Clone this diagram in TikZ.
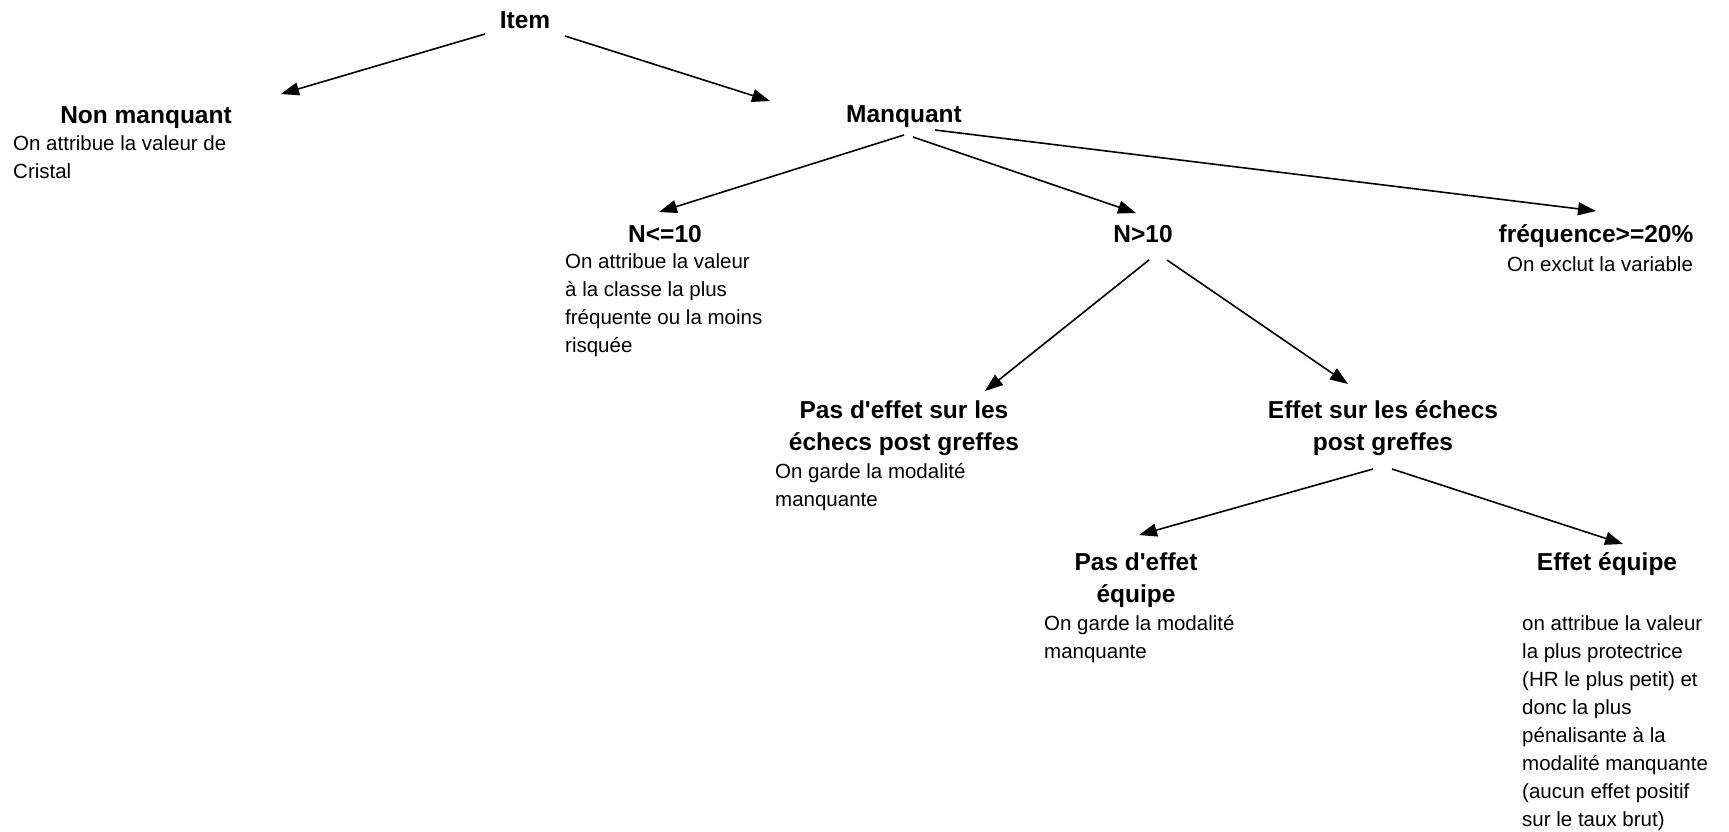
\documentclass[tikz,border=0pt]{standalone}
\usepackage{fontspec}
\setmainfont{Liberation Sans}[Ligatures=TeXOff]
\usetikzlibrary{arrows.meta}
\begin{document}
\begin{tikzpicture}[x=1pt,y=-1pt,
  ttl/.style={font=\fontsize{24.5}{32}\selectfont\bfseries, inner sep=0pt, anchor=base, align=center},
  body/.style={font=\fontsize{20.5}{28}\selectfont, inner sep=0pt, anchor=base west, align=left},
  arr/.style={line width=1.6pt, -{Triangle[length=18pt,width=13pt]}}]
\useasboundingbox (0,0) rectangle (1729,831);
% titles (base = baseline of last line)
\node[ttl] (item) at (525,28) {Item};
\node[ttl] (nonm) at (146,123) {Non manquant};
\node[ttl] (manq) at (904,122) {Manquant};
\node[ttl] (nle) at (665,242) {N<=10};
\node[ttl] (ngt) at (1143,242) {N>10};
\node[ttl] (freq) at (1596,242) {fréquence>=20\%};
\node[ttl] (pas1) at (904,450) {Pas d'effet sur les\\échecs post greffes};
\node[ttl] (eff1) at (1383,450) {Effet sur les échecs\\post greffes};
\node[ttl] (pas2) at (1136,602) {Pas d'effet\\équipe};
\node[ttl] (eff2) at (1607,570) {Effet équipe};
% descriptions (base = baseline of last line)
\node[body] (dnonm) at (13,178) {On attribue la valeur de\\Cristal};
\node[body] (dnle) at (565,352) {On attribue la valeur\\à la classe la plus\\fréquente ou la moins\\risquée};
\node[body] (dfreq) at (1507,271) {On exclut la variable};
\node[body] (dpas1) at (775,506) {On garde la modalité\\manquante};
\node[body] (dpas2) at (1044,658) {On garde la modalité\\manquante};
\node[body] (deff2) at (1522,826) {on attribue la valeur\\la plus protectrice\\(HR le plus petit) et\\donc la plus\\pénalisante à la\\modalité manquante\\(aucun effet positif\\sur le taux brut)};
% connectors
\draw[arr] ([shift={(-40,6)}]item.base) -- ([shift={(135,-29)}]nonm.base);
\draw[arr] ([shift={(40,8)}]item.base) -- ([shift={(-134,-21)}]manq.base);
\draw[arr] ([shift={(0,13)}]manq.base) -- ([shift={(-6,-30)}]nle.base);
\draw[arr] ([shift={(9,15)}]manq.base) -- ([shift={(-7,-29)}]ngt.base);
\draw[arr] ([shift={(31,8)}]manq.base) -- ([shift={(0,-31)}]freq.base);
\draw[arr] ([shift={(6,18)}]ngt.base) -- ([shift={(81,-59)}]pas1.base);
\draw[arr] ([shift={(24,18)}]ngt.base) -- ([shift={(-35,-66)}]eff1.base);
\draw[arr] ([shift={(-10,19)}]eff1.base) -- ([shift={(3,-67)}]pas2.base);
\draw[arr] ([shift={(9,19)}]eff1.base) -- ([shift={(16,-26)}]eff2.base);
\end{tikzpicture}
\end{document}
